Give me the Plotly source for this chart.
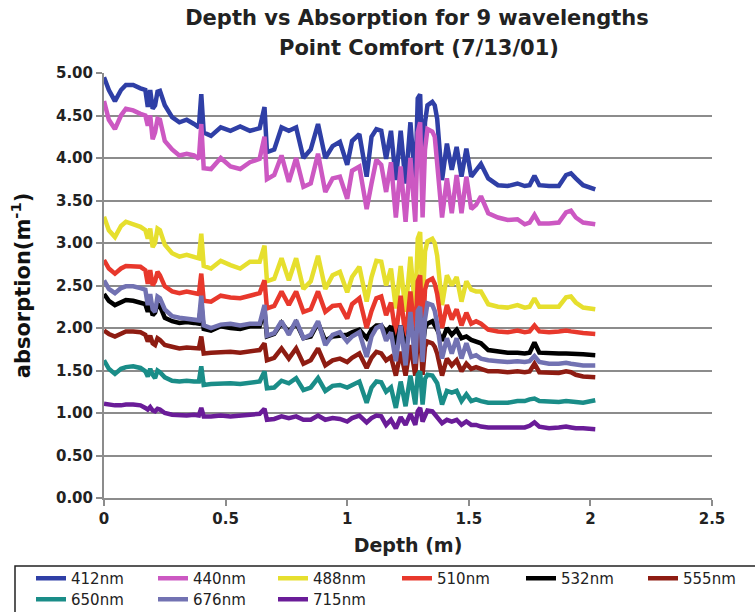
import plotly.graph_objects as go

depth = [0.00,0.02,0.045,0.07,0.09,0.12,0.15,0.17,0.18,0.19,
         0.20,0.21,0.22,0.23,0.25,0.28,0.31,0.34,0.37,0.39,
         0.40,0.41,0.44,0.48,0.52,0.56,0.60,0.64,0.66,0.67,
         0.70,0.73,0.76,0.79,0.82,0.85,0.88,0.91,0.94,0.97,
         1.00,1.02,1.05,1.08,1.10,1.12,1.14,1.16,1.18,1.20,
         1.22,1.24,1.26,1.28,1.29,1.30,1.31,1.32,1.33,1.35,
         1.36,1.37,1.39,1.41,1.43,1.45,1.47,1.49,1.51,1.53,
         1.55,1.58,1.62,1.66,1.70,1.73,1.75,1.77,1.79,1.83,
         1.87,1.90,1.92,1.94,1.97,2.02]

a412 = [4.95,4.80,4.67,4.80,4.86,4.86,4.82,4.80,4.60,4.80,
        4.58,4.62,4.78,4.79,4.62,4.48,4.42,4.45,4.40,4.36,
        4.75,4.30,4.26,4.36,4.32,4.37,4.32,4.35,4.60,4.07,
        4.10,4.36,4.32,4.36,4.00,4.10,4.40,4.00,4.14,4.19,
        3.92,4.20,4.28,3.78,4.25,4.34,4.32,3.99,4.32,3.74,
        4.32,3.70,4.42,3.68,4.70,4.75,3.70,4.42,4.62,4.66,
        4.62,4.46,3.74,4.17,3.86,4.13,3.78,4.11,3.78,3.85,
        3.93,3.76,3.68,3.67,3.70,3.67,3.68,3.79,3.68,3.67,
        3.67,3.80,3.82,3.76,3.68,3.63]

a440 = [4.67,4.45,4.34,4.50,4.58,4.56,4.52,4.50,4.38,4.50,
        4.22,4.30,4.46,4.45,4.20,4.10,4.03,4.05,4.03,3.99,
        4.40,3.88,3.87,4.00,3.90,3.87,3.95,3.99,4.25,3.75,
        3.80,4.03,3.72,4.00,3.66,3.70,4.05,3.60,3.76,3.78,
        3.52,3.85,3.90,3.40,3.70,3.98,3.92,3.60,3.95,3.30,
        3.90,3.25,4.00,3.25,4.30,4.42,3.30,4.10,4.34,4.31,
        4.25,3.95,3.30,3.76,3.35,3.80,3.35,3.78,3.40,3.45,
        3.55,3.35,3.30,3.27,3.28,3.22,3.24,3.33,3.23,3.23,
        3.24,3.36,3.38,3.30,3.24,3.22]

a488 = [3.31,3.15,3.07,3.20,3.25,3.22,3.19,3.15,3.05,3.17,
        2.95,3.00,3.17,3.15,2.98,2.88,2.84,2.86,2.83,2.82,
        3.11,2.73,2.70,2.79,2.74,2.70,2.78,2.78,2.97,2.55,
        2.58,2.82,2.56,2.82,2.46,2.55,2.85,2.46,2.62,2.66,
        2.42,2.60,2.72,2.31,2.60,2.79,2.78,2.50,2.70,2.23,
        2.73,2.19,2.84,2.20,3.05,3.13,2.22,2.90,3.02,3.05,
        3.00,2.85,2.27,2.62,2.50,2.60,2.31,2.55,2.45,2.43,
        2.43,2.28,2.25,2.24,2.27,2.24,2.25,2.35,2.25,2.25,
        2.25,2.36,2.37,2.30,2.24,2.22]

a510 = [2.80,2.70,2.64,2.70,2.73,2.73,2.72,2.68,2.52,2.68,
        2.50,2.55,2.66,2.62,2.49,2.43,2.41,2.43,2.42,2.40,
        2.64,2.32,2.31,2.38,2.36,2.35,2.38,2.41,2.56,2.23,
        2.26,2.43,2.27,2.43,2.19,2.22,2.43,2.19,2.26,2.27,
        2.11,2.28,2.35,2.00,2.20,2.35,2.37,2.15,2.30,1.91,
        2.38,1.88,2.43,1.88,2.55,2.62,1.88,2.45,2.55,2.58,
        2.52,2.40,2.00,2.27,2.10,2.22,2.03,2.18,2.05,2.08,
        2.05,1.98,1.96,1.95,1.97,1.95,1.96,2.03,1.96,1.95,
        1.96,1.97,1.96,1.95,1.94,1.93]

a532 = [2.40,2.32,2.27,2.31,2.33,2.32,2.30,2.28,2.19,2.27,
        2.15,2.18,2.28,2.26,2.12,2.08,2.06,2.07,2.06,2.05,
        2.28,1.99,1.97,2.02,2.00,1.99,2.02,2.02,2.20,1.90,
        1.93,2.06,1.95,2.06,1.88,1.90,2.06,1.85,1.90,1.91,
        1.92,1.95,1.98,1.88,1.98,2.03,2.03,1.95,2.02,1.80,
        2.03,1.75,2.06,1.78,2.08,2.10,1.78,2.00,2.05,2.08,
        2.03,1.98,1.85,2.00,1.92,1.98,1.88,1.90,1.86,1.84,
        1.82,1.74,1.72,1.71,1.71,1.70,1.71,1.83,1.71,1.70,
        1.70,1.70,1.70,1.69,1.69,1.68]

a555 = [1.97,1.93,1.90,1.94,1.96,1.96,1.95,1.92,1.84,1.91,
        1.82,1.80,1.88,1.86,1.80,1.78,1.76,1.77,1.76,1.76,
        1.90,1.70,1.71,1.72,1.72,1.71,1.73,1.74,1.82,1.62,
        1.65,1.76,1.64,1.76,1.58,1.62,1.76,1.56,1.62,1.64,
        1.60,1.65,1.70,1.53,1.65,1.72,1.70,1.62,1.66,1.44,
        1.72,1.44,1.80,1.44,1.88,1.95,1.45,1.78,1.84,1.82,
        1.78,1.70,1.44,1.64,1.56,1.62,1.49,1.58,1.52,1.54,
        1.52,1.49,1.49,1.48,1.49,1.48,1.49,1.58,1.48,1.47,
        1.47,1.49,1.48,1.45,1.43,1.42]

a650 = [1.62,1.52,1.46,1.52,1.54,1.55,1.53,1.49,1.43,1.52,
        1.45,1.41,1.50,1.48,1.42,1.38,1.37,1.38,1.37,1.37,
        1.55,1.33,1.34,1.35,1.35,1.34,1.35,1.37,1.49,1.29,
        1.30,1.38,1.35,1.41,1.27,1.30,1.41,1.26,1.32,1.33,
        1.30,1.33,1.37,1.12,1.30,1.37,1.36,1.25,1.30,1.06,
        1.37,1.08,1.44,1.10,1.45,1.49,1.10,1.40,1.45,1.44,
        1.40,1.35,1.10,1.26,1.24,1.26,1.14,1.22,1.14,1.16,
        1.14,1.12,1.12,1.12,1.14,1.14,1.16,1.17,1.14,1.13,
        1.13,1.14,1.13,1.13,1.12,1.15]

a676 = [2.56,2.46,2.41,2.47,2.49,2.49,2.47,2.45,2.27,2.40,
        2.22,2.19,2.37,2.35,2.22,2.14,2.12,2.11,2.10,2.09,
        2.38,2.03,2.00,2.04,2.05,2.03,2.05,2.05,2.27,1.91,
        1.94,2.08,1.92,2.09,1.88,1.92,2.08,1.80,1.92,1.95,
        1.84,1.90,1.95,1.66,1.90,2.00,2.03,1.85,1.95,1.61,
        2.03,1.56,2.19,1.58,2.20,2.25,1.60,2.10,2.29,2.27,
        2.20,2.05,1.64,1.88,1.70,1.88,1.64,1.82,1.66,1.68,
        1.64,1.62,1.61,1.60,1.61,1.60,1.61,1.67,1.60,1.58,
        1.58,1.59,1.58,1.57,1.56,1.56]

a715 = [1.11,1.10,1.09,1.09,1.10,1.10,1.09,1.06,1.04,1.07,
        1.03,1.02,1.05,1.04,1.00,0.98,0.97,0.97,0.98,0.97,
        1.06,0.96,0.96,0.97,0.96,0.97,0.97,0.99,1.05,0.92,
        0.93,0.96,0.94,0.96,0.92,0.92,0.97,0.92,0.94,0.93,
        0.90,0.94,0.97,0.89,0.94,0.97,0.96,0.86,0.92,0.82,
        0.95,0.86,0.99,0.86,1.02,1.06,0.90,0.98,1.03,1.02,
        0.98,0.94,0.88,0.92,0.90,0.92,0.86,0.90,0.86,0.86,
        0.84,0.83,0.83,0.82,0.83,0.83,0.85,0.89,0.84,0.82,
        0.83,0.84,0.83,0.82,0.82,0.81]

names = ["412nm", "440nm", "488nm", "510nm", "532nm", "555nm", "650nm", "676nm", "715nm"]
series = [a412, a440, a488, a510, a532, a555, a650, a676, a715]
colors = ["#2F3FA6", "#CC58C2", "#E6DF2E", "#E8382C", "#000000",
          "#8E1C12", "#1A8D88", "#7272B2", "#6A1C98"]

# plot area in pixels (755 x 612 page)
W, H = 755, 612
L, R, T, B = 104, 43, 73, 114
PW, PH = W - L - R, H - T - B


def px_x(p):
    return (p - L) / PW


def px_y(p):
    return (H - B - p) / PH


GRID = "#8C8C8C"
FONT = "DejaVu Sans"

# legend slot for every series: (swatch start x, legend top y) in pixels
legend_cols = [36, 158, 278, 402, 526, 648, 36, 158, 278]
legend_rows = [562, 562, 562, 562, 562, 562, 583, 583, 583]

fig = go.Figure()
legend_layouts = {}
for i, (nm, ys, c) in enumerate(zip(names, series, colors)):
    key = "legend" if i == 0 else f"legend{i + 1}"
    fig.add_trace(go.Scatter(
        x=depth, y=ys, mode="lines", name=nm,
        line=dict(color=c, width=4.5),
        legend=key, showlegend=True,
    ))
    legend_layouts[key] = dict(
        orientation="v", itemwidth=30,
        font=dict(family=FONT, size=15, color="#222222"),
        bgcolor="rgba(0,0,0,0)", borderwidth=0,
        x=px_x(legend_cols[i] - 5), xanchor="left",
        y=px_y(legend_rows[i]), yanchor="top",
    )

fig.update_layout(
    width=W, height=H,
    showlegend=True,
    margin=dict(l=L, r=R, t=T, b=B, autoexpand=False),
    paper_bgcolor="white", plot_bgcolor="white",
    title=dict(
        text="Depth vs Absorption for 9 wavelengths",
        font=dict(family=FONT, size=21, color="#222222", weight="bold"),
        x=417 / W, xref="container", xanchor="center",
        y=1 - 18 / H, yref="container", yanchor="middle",
    ),
    xaxis=dict(
        range=[0, 2.5], tick0=0, dtick=0.5,
        showgrid=False, zeroline=False,
        showline=True, linecolor=GRID, linewidth=2,
        ticks="outside", ticklen=6, tickwidth=2, tickcolor=GRID,
        tickfont=dict(family=FONT, size=15, color="#222222", weight="bold"),
        ticklabelstandoff=0,
        title=dict(text="Depth (m)", standoff=12,
                   font=dict(family=FONT, size=19, color="#222222", weight="bold")),
    ),
    yaxis=dict(
        range=[0, 5], tick0=0, dtick=0.5, tickformat=".2f",
        showgrid=True, gridcolor=GRID, gridwidth=2, zeroline=False,
        showline=True, linecolor=GRID, linewidth=2,
        ticks="outside", ticklen=6, tickwidth=2, tickcolor=GRID,
        tickfont=dict(family=FONT, size=15, color="#222222", weight="bold"),
        title=dict(text="absorption(m<sup>-1</sup>)", standoff=20,
                   font=dict(family=FONT, size=21, color="#111111", weight="bold")),
    ),
    annotations=[dict(
        text="Point Comfort (7/13/01)", showarrow=False,
        xref="paper", yref="paper", x=px_x(419), y=px_y(48),
        xanchor="center", yanchor="middle",
        font=dict(family=FONT, size=21, color="#222222", weight="bold"),
    )],
    shapes=[dict(
        type="rect", xref="paper", yref="paper",
        x0=px_x(15), x1=px_x(762), y0=px_y(618), y1=px_y(566),
        line=dict(color="#222222", width=1.5), fillcolor="rgba(0,0,0,0)",
        layer="above",
    )],
    **legend_layouts,
)

fig.write_html("out.html")
